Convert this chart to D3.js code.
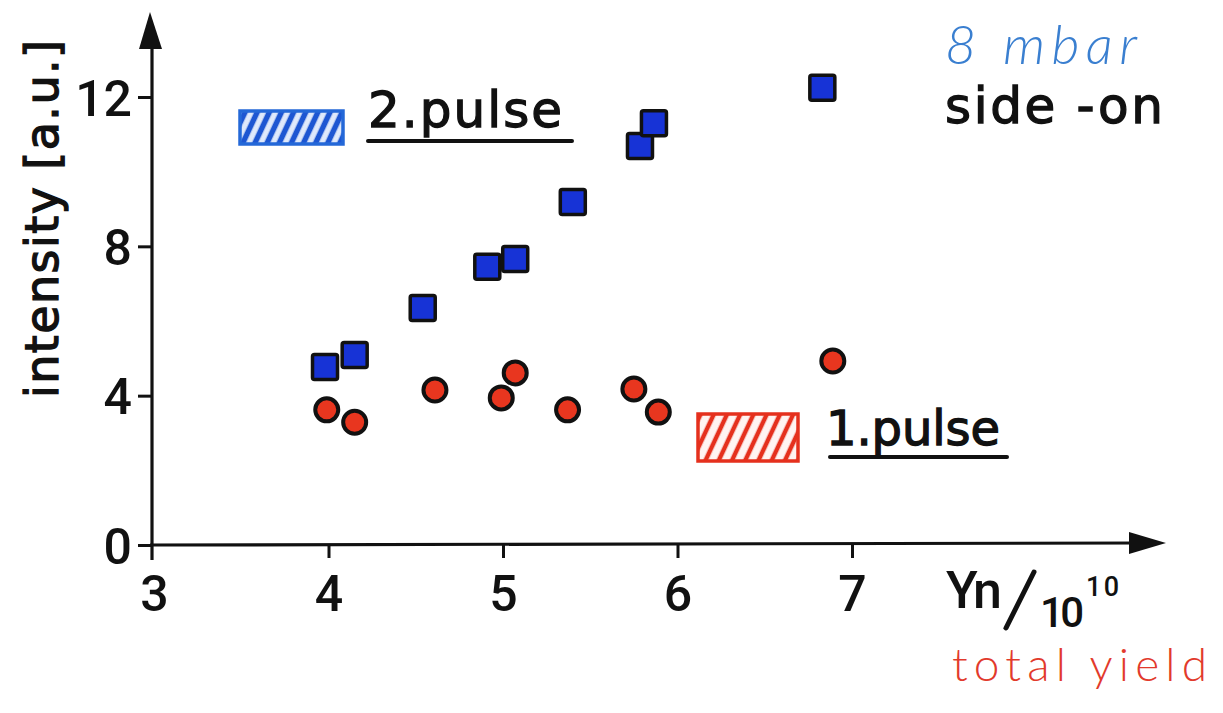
<!DOCTYPE html>
<html>
<head>
<meta charset="utf-8">
<script src="https://cdn.jsdelivr.net/npm/d3@7"></script>
<style>
  html, body { margin: 0; padding: 0; background: #fff; }
  svg { display: block; }
  .stencil { font-family: "DejaVu Sans", sans-serif; font-weight: normal; fill: #111; stroke: #111; stroke-width: 1.3px; }
  .digits { font-family: Roboto, "DejaVu Sans", sans-serif; font-weight: 500; fill: #111; }
  .hand { font-family: Lato, "DejaVu Sans", sans-serif; font-weight: 300; }
</style>
</head>
<body>
<svg id="chart" width="1223" height="713"></svg>
<script>
// Neutron yield (units of 1e10) for each shot
const yield2 = [3.98, 4.15, 4.54, 4.91, 5.07, 5.40, 5.785, 5.865, 6.83];
// Intensity of the 2nd pulse [a.u.]
const intensity2 = [4.77, 5.09, 6.35, 7.45, 7.66, 9.19, 10.69, 11.30, 12.25];
const yield1 = [3.99, 4.15, 4.61, 4.99, 5.07, 5.37, 5.75, 5.89, 6.89];
// Intensity of the 1st pulse [a.u.]
const intensity1 = [3.62, 3.29, 4.15, 3.94, 4.61, 3.62, 4.18, 3.56, 4.93];

const xTicks = [3, 4, 5, 6, 7];
const yTicks = [0, 4, 8, 12];

const svg = d3.select("#chart");

const x = d3.scaleLinear().domain([3, 7]).range([154, 852]);
const y = d3.scaleLinear().domain([0, 12]).range([545, 97]);

const ink = "#111";

// ---- hatch patterns for the legend swatches
const defs = svg.append("defs");
function hatch(id, color, bg, gap, width) {
  const p = defs.append("pattern")
    .attr("id", id)
    .attr("patternUnits", "userSpaceOnUse")
    .attr("width", gap).attr("height", gap)
    .attr("patternTransform", "rotate(25)");
  p.append("rect").attr("width", gap).attr("height", gap).attr("fill", bg);
  p.append("line")
    .attr("x1", gap / 2).attr("y1", 0).attr("x2", gap / 2).attr("y2", gap)
    .attr("stroke", color).attr("stroke-width", width);
}
hatch("hatchBlue", "#1d56d2", "#dfe9fb", 11, 5.5);
hatch("hatchRed", "#e5301d", "#fff4f2", 12, 4.5);

// ---- axes
const xAxis = d3.axisBottom(x).tickValues(xTicks).tickSize(13).tickPadding(17)
  .tickFormat(d3.format("d"));
const yAxis = d3.axisLeft(y).tickValues(yTicks).tickSize(14).tickPadding(6)
  .tickFormat(d3.format("d"));

const gx = svg.append("g").attr("transform", `translate(0,${y(0)})`).call(xAxis);
const gy = svg.append("g").attr("transform", `translate(152,0)`).call(yAxis);
gx.select(".domain").remove();
gy.select(".domain").remove();
[gx, gy].forEach(g => {
  g.selectAll(".tick line").attr("stroke", ink).attr("stroke-width", 3);
  g.selectAll(".tick text")
    .attr("class", "digits")
    .style("font-size", "50px")
    .attr("fill", ink);
});
gx.selectAll(".tick text").attr("dy", "0.72em");
gy.selectAll(".tick text").attr("dy", "0.36em");
gx.selectAll(".tick").filter(d => d === 3).select("line").remove();

// axis lines with arrow heads
svg.append("line")
  .attr("x1", 152).attr("y1", y(0) + 15).attr("x2", 152).attr("y2", 40)
  .attr("stroke", ink).attr("stroke-width", 3.2);
svg.append("path")
  .attr("d", "M150,12 L139,49 L162,49 Z")
  .attr("fill", ink);
svg.append("line")
  .attr("x1", 150).attr("y1", y(0)).attr("x2", 1140).attr("y2", y(0) - 2)
  .attr("stroke", ink).attr("stroke-width", 3.2);
svg.append("path")
  .attr("d", `M1166,${y(0) - 2} L1129,${y(0) - 13} L1129,${y(0) + 9} Z`)
  .attr("fill", ink);

// ---- axis titles
svg.append("text")
  .attr("class", "stencil")
  .attr("transform", "translate(58,398) rotate(-90)")
  .attr("textLength", 358)
  .attr("lengthAdjust", "spacing")
  .style("font-size", "46px")
  .text("intensity [a.u.]");

const xt = svg.append("g");
xt.append("text").attr("class", "digits").attr("x", 946).attr("y", 608).style("font-size", "52px")
  .attr("textLength", 56).attr("lengthAdjust", "spacing").text("Yn");
xt.append("line")
  .attr("x1", 1006).attr("y1", 628).attr("x2", 1034).attr("y2", 572)
  .attr("stroke", ink).attr("stroke-width", 5).attr("stroke-linecap", "round");
xt.append("text").attr("class", "digits").attr("x", 1040).attr("y", 627).style("font-size", "42px")
  .attr("textLength", 44).attr("lengthAdjust", "spacing").text("10");
xt.append("text").attr("class", "digits").attr("x", 1086).attr("y", 596).style("font-size", "27px")
  .attr("textLength", 33).attr("lengthAdjust", "spacing").text("10");

svg.append("text")
  .attr("class", "hand")
  .attr("x", 952).attr("y", 681)
  .attr("fill", "#e23a2c")
  .attr("textLength", 255)
  .attr("lengthAdjust", "spacing")
  .style("font-size", "46px")
  .text("total yield");

svg.append("text")
  .attr("class", "hand")
  .attr("x", 945).attr("y", 64)
  .attr("fill", "#3a7fd0")
  .style("font-size", "54px")
  .style("font-style", "italic")
  .attr("textLength", 192)
  .attr("lengthAdjust", "spacing")
  .text("8 mbar");

svg.append("text")
  .attr("class", "stencil")
  .attr("x", 945).attr("y", 123)
  .style("font-size", "50px")
  .attr("textLength", 218)
  .attr("lengthAdjust", "spacing")
  .text("side -on");

// ---- legend
const legend = [
  { label: "2.pulse", fill: "url(#hatchBlue)", stroke: "#2468d8",
    box: [240, 111, 103, 33], tx: 368, ty: 127, tw: 194, fs: 50, ux: [368, 572], uy: 141 },
  { label: "1.pulse", fill: "url(#hatchRed)", stroke: "#e5301d",
    box: [698, 414, 100, 47], tx: 826, ty: 445, tw: 174, fs: 48, ux: [830, 1007], uy: 457 }
];
const lg = svg.append("g").selectAll("g").data(legend).join("g");
lg.append("rect")
  .attr("x", d => d.box[0]).attr("y", d => d.box[1])
  .attr("width", d => d.box[2]).attr("height", d => d.box[3])
  .attr("fill", d => d.fill).attr("stroke", d => d.stroke).attr("stroke-width", 3.5);
lg.append("text")
  .attr("class", "stencil")
  .attr("x", d => d.tx).attr("y", d => d.ty)
  .style("font-size", d => d.fs + "px")
  .attr("textLength", d => d.tw)
  .attr("lengthAdjust", "spacing")
  .text(d => d.label);
lg.append("line")
  .attr("x1", d => d.ux[0]).attr("x2", d => d.ux[1])
  .attr("y1", d => d.uy).attr("y2", d => d.uy)
  .attr("stroke", ink).attr("stroke-width", 4).attr("stroke-linecap", "round");

// ---- data marks
const pulse1 = yield1.map((v, i) => ({ x: v, y: intensity1[i] }));
const pulse2 = yield2.map((v, i) => ({ x: v, y: intensity2[i] }));

svg.append("g").selectAll("circle").data(pulse1).join("circle")
  .attr("cx", d => x(d.x)).attr("cy", d => y(d.y)).attr("r", 11.5)
  .attr("fill", "#e8361f").attr("stroke", ink).attr("stroke-width", 4);

const side = 25;
svg.append("g").selectAll("rect").data(pulse2).join("rect")
  .attr("x", d => x(d.x) - side / 2).attr("y", d => y(d.y) - side / 2)
  .attr("width", side).attr("height", side).attr("rx", 2)
  .attr("fill", "#1733d6").attr("stroke", ink).attr("stroke-width", 3.5);
</script>
</body>
</html>
